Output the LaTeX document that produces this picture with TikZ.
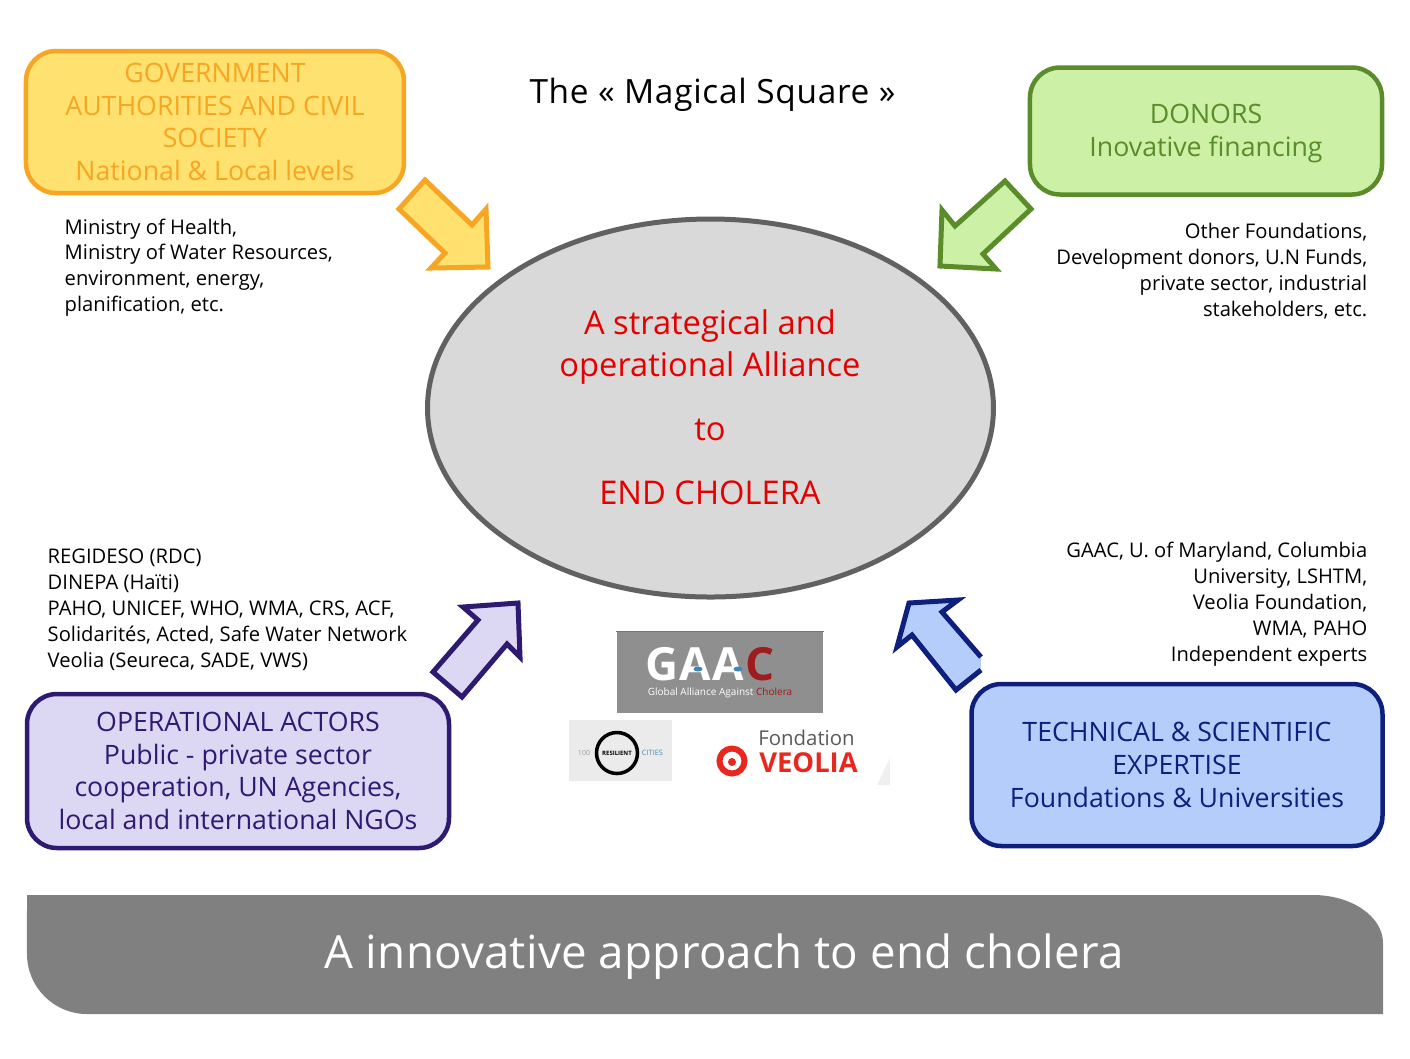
\documentclass[tikz,border=0pt]{standalone}
\usepackage{fontspec}
\setmainfont{Open Sans}
\usepackage{xcolor}
\usetikzlibrary{shapes.geometric}
\usetikzlibrary{positioning}
\definecolor{govfill}{HTML}{FEE16E}
\definecolor{govline}{HTML}{F6A623}
\definecolor{donfill}{HTML}{CCF0A6}
\definecolor{donline}{HTML}{5B8C2A}
\definecolor{opfill}{HTML}{DCD8F4}
\definecolor{opline}{HTML}{2E1A70}
\definecolor{techfill}{HTML}{B4CDFB}
\definecolor{techline}{HTML}{0E1F7E}
\definecolor{bannergray}{HTML}{808080}
\definecolor{logogray}{HTML}{8F8F8F}
\definecolor{cholred}{HTML}{9E1B1E}
\definecolor{veoliared}{HTML}{E8281E}
\definecolor{dropblue}{HTML}{3C86B8}
\tikzset{
    actor/.style={draw, line width=0.45mm, rounded corners=0.3cm, align=center, font=\fontsize{7.6}{9.3}\selectfont, inner sep=0pt},
    listing/.style={font=\fontsize{5.74}{7.4}\selectfont, inner sep=0pt},
    blockarrow/.style={line width=0.5mm, miter limit=10},
    redtext/.style={text=red!90!black, inner sep=0pt},
}
\begin{document}
\begin{tikzpicture}
        \useasboundingbox (0,0) rectangle (14.1,-10.58);

        % title
        \node[font=\fontsize{9.5}{11}\selectfont\addfontfeature{LetterSpace=2.2}, inner sep=0pt] (title) at (7.125,-0.95) {The « Magical Square »};

        % centre
        \node[
            draw=black!62,
            fill=black!15,
            ellipse,
            line width=0.5mm,
            minimum width=5.66cm,
            minimum height=3.78cm,
            inner sep=0pt,
        ] (alliance) at (7.105,-4.08) {};
        \node[redtext, font=\fontsize{9.3}{12.2}\selectfont, align=center] (strategical) at (7.10,-3.47) {A strategical and\\operational Alliance};
        \node[redtext, font=\fontsize{9.3}{11}\selectfont] (to) at (7.10,-4.30) {to};
        \node[redtext, font=\fontsize{9.3}{11}\selectfont] (endcholera) at (7.10,-4.93) {END CHOLERA};

        % government
        \node[
            actor,
            fill=govfill,
            draw=govline,
            text=govline,
            minimum width=3.78cm,
            minimum height=1.42cm,
        ] (government) at (2.15,-1.22) {GOVERNMENT\\AUTHORITIES AND CIVIL\\SOCIETY\\National \& Local levels};

        % donors
        \node[
            actor,
            fill=donfill,
            draw=donline,
            minimum width=3.52cm,
            minimum height=1.27cm,
        ] (donors) at (12.06,-1.31) {};
        \node[
            actor,
            draw=none,
            text=donline,
        ] (donorstext) at (12.06,-1.335) {DONORS\\Inovative financing};

        % operational
        \node[
            actor,
            fill=opfill,
            draw=opline,
            text=opline,
            minimum width=4.22cm,
            minimum height=1.54cm,
        ] (operational) at (2.38,-7.71) {OPERATIONAL ACTORS\\Public - private sector\\cooperation, UN Agencies,\\local and international NGOs};

        % technical
        \node[
            actor,
            fill=techfill,
            draw=techline,
            text=techline,
            minimum width=4.11cm,
            minimum height=1.62cm,
        ] (technical) at (11.77,-7.65) {TECHNICAL \& SCIENTIFIC\\EXPERTISE\\Foundations \& Universities};

        % arrows
        \draw[blockarrow, fill=govfill, draw=govline]
            (4.25,-1.80) -- (3.99,-2.09) -- (4.45,-2.53) -- (4.31,-2.68) -- (4.88,-2.67) -- (4.86,-2.09) -- (4.72,-2.25) -- cycle;
        \draw[blockarrow, fill=donfill, draw=donline]
            (10.05,-1.81) -- (10.31,-2.09) -- (9.83,-2.54) -- (9.96,-2.69) -- (9.40,-2.66) -- (9.42,-2.10) -- (9.55,-2.26) -- cycle;
        \draw[blockarrow, fill=opfill, draw=opline]
            (4.33,-6.72) -- (4.62,-6.97) -- (5.07,-6.44) -- (5.20,-6.57) -- (5.18,-6.03) -- (4.63,-6.07) -- (4.78,-6.20) -- cycle;
        \fill[techfill]
            (9.81,-6.57) -- (9.42,-6.12) -- (9.58,-6.00) -- (9.09,-6.03) -- (8.97,-6.47) -- (9.12,-6.35) -- (9.56,-6.90) -- (9.81,-6.70) -- cycle;
        \draw[blockarrow, draw=techline]
            (9.81,-6.57) -- (9.42,-6.12) -- (9.58,-6.00) -- (9.09,-6.03) -- (8.97,-6.47) -- (9.12,-6.35) -- (9.56,-6.90) -- (9.81,-6.70);

        % lists
        \node[listing, font=\fontsize{5.74}{7.3}\selectfont, anchor=north west, align=left] (ministries) at (0.64,-2.18) {Ministry of Health,\\Ministry of Water Resources,\\environment, energy,\\planification, etc.};
        \node[listing, anchor=north east, align=right] (funders) at (13.68,-2.22) {Other Foundations,\\Development donors, U.N Funds,\\private sector, industrial\\stakeholders, etc.};
        \node[listing, anchor=north west, align=left] (agencies) at (0.47,-5.48) {REGIDESO (RDC)\\DINEPA (Haïti)\\PAHO, UNICEF, WHO, WMA, CRS, ACF,\\Solidarités, Acted, Safe Water Network\\Veolia (Seureca, SADE, VWS)};
        \node[listing, anchor=north east, align=right] (experts) at (13.68,-5.41) {GAAC, U. of Maryland, Columbia\\University, LSHTM,\\Veolia Foundation,\\WMA, PAHO\\Independent experts};

        % banner
        \fill[bannergray] (0.27,-8.95) -- (13.13,-8.95) arc (90:0:0.70 and 0.48) -- (13.83,-10.14) -- (0.87,-10.14) arc (270:180:0.6 and 0.6) -- cycle;
        \node[text=white, font=\fontsize{13}{15}\selectfont\addfontfeature{LetterSpace=0.5}, inner sep=0pt] (approach) at (7.245,-9.57) {A innovative approach to end cholera};

        % logos
        \node[fill=logogray, minimum width=2.06cm, minimum height=0.81cm, inner sep=0pt] (gaac) at (7.2,-6.725) {};
        \draw[dropblue, line width=0.15mm] (gaac.north west) -- (gaac.north east);
        \node[text=white, font=\fontsize{13}{13}\selectfont\bfseries\addfontfeature{LetterSpace=3}, inner sep=0pt] (gaacletters) at (6.95,-6.64) {GAA};
        \node[text=cholred, font=\fontsize{13}{13}\selectfont\bfseries, inner sep=0pt, right=0pt of gaacletters] (gaacc) {C};
        \node[fill=dropblue, ellipse, minimum width=0.09cm, minimum height=0.05cm, inner sep=0pt] (gaacdropa) at (6.98,-6.69) {};
        \node[fill=dropblue, ellipse, minimum width=0.09cm, minimum height=0.05cm, inner sep=0pt] (gaacdropb) at (7.38,-6.69) {};
        \node[text=white, font=\fontsize{2.85}{3}\selectfont, inner sep=0pt] (gaacname) at (7.2,-6.93) {Global Alliance Against \textcolor{cholred}{Cholera}};
        \node[fill=black!8, minimum width=1.03cm, minimum height=0.61cm, inner sep=0pt] (resilient) at (6.205,-7.505) {};
        \node[draw=black, circle, line width=0.35mm, minimum size=0.41cm, inner sep=0pt, font=\fontsize{1.7}{2}\selectfont\bfseries] (resilientring) at (6.17,-7.53) {RESILIENT};
        \node[left=0.04cm of resilientring, inner sep=0pt, text=black!40, font=\fontsize{2}{2}\selectfont] (resilientleft) {100};
        \node[right=0.02cm of resilientring, inner sep=0pt, text=cyan!70!black, font=\fontsize{2.1}{2}\selectfont] (resilientright) {CITIES};
        \node[text=black!65, font=\fontsize{5.8}{6}\selectfont, inner sep=0pt] (fondation) at (8.065,-7.38) {Fondation};
        \node[text=veoliared, font=\fontsize{7.8}{8}\selectfont\bfseries, inner sep=0pt] (veolia) at (8.085,-7.63) {VEOLIA};
        \node[draw=veoliared, fill=white, circle, line width=0.6mm, minimum size=0.25cm, inner sep=0pt] (veoliamark) at (7.32,-7.61) {};
        \node[fill=veoliared, circle, minimum size=0.08cm, inner sep=0pt] (veoliadrop) at (7.32,-7.62) {};
        \fill[black!6] (8.77,-7.85) -- (8.9,-7.85) -- (8.9,-7.58) -- cycle;
    \end{tikzpicture}
\end{document}
